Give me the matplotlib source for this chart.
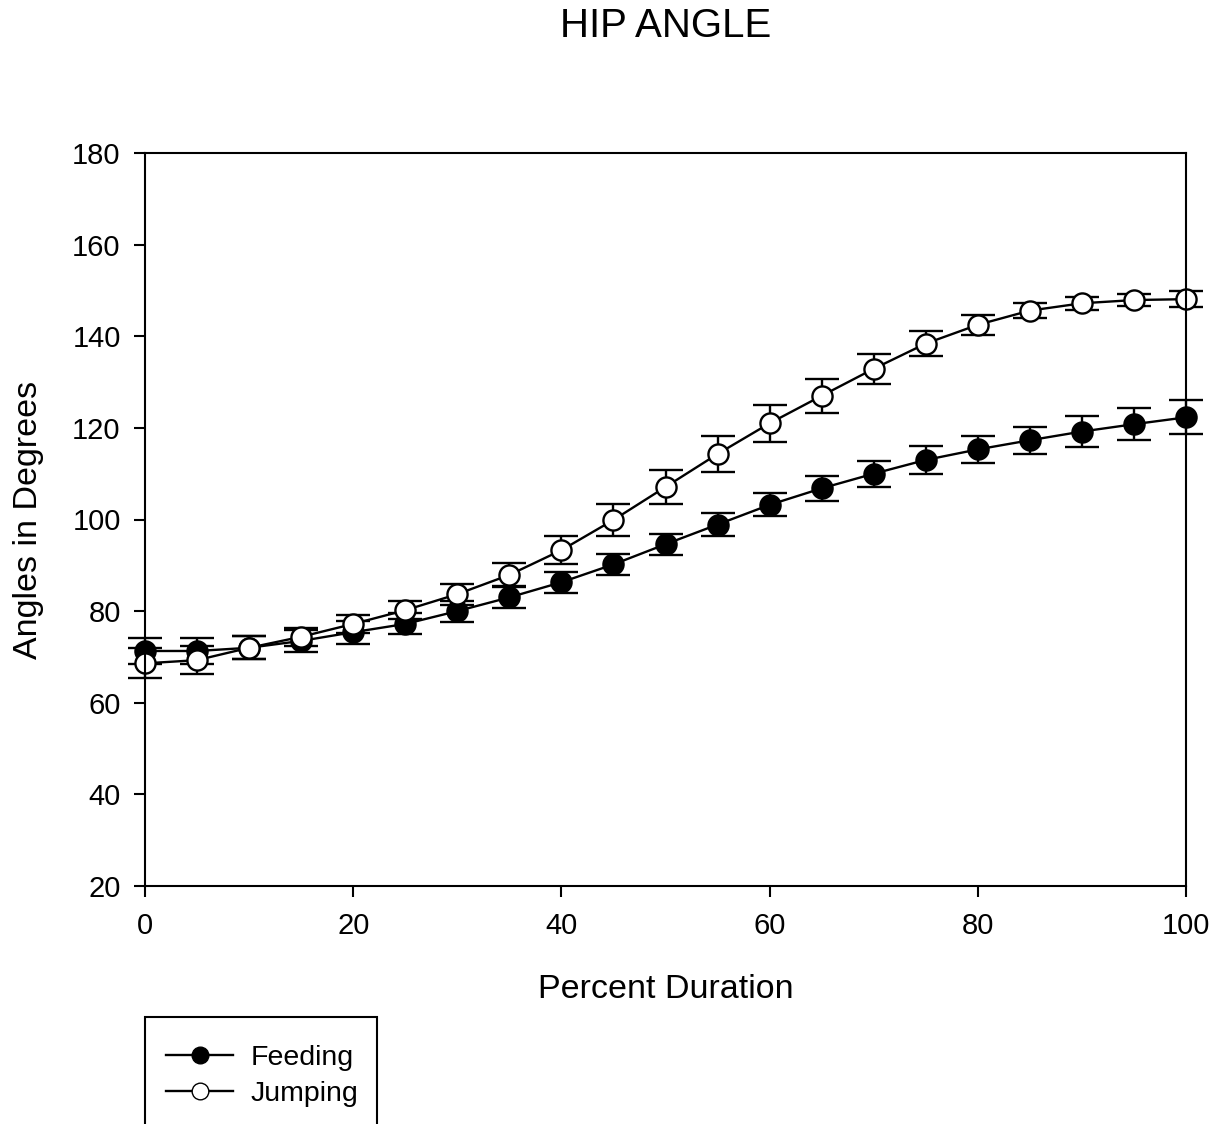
import matplotlib
matplotlib.use("Agg")
import matplotlib.pyplot as plt
from matplotlib.patches import Rectangle
from matplotlib.lines import Line2D

plt.rcParams['font.family'] = ['Liberation Sans', 'DejaVu Sans']

x = [0, 5, 10, 15, 20, 25, 30, 35, 40, 45, 50, 55, 60, 65, 70, 75, 80, 85, 90, 95, 100]
feeding = [71.3, 71.3, 72.0, 73.5, 75.4, 77.2, 80.0, 83.0, 86.3, 90.2, 94.6, 98.9, 103.2,
           106.8, 110.0, 113.0, 115.3, 117.3, 119.2, 120.8, 122.3]
feeding_err = [2.8, 2.8, 2.5, 2.4, 2.5, 2.3, 2.3, 2.3, 2.3, 2.3, 2.3, 2.5, 2.5,
               2.7, 2.8, 3.0, 3.0, 3.0, 3.3, 3.5, 3.7]
jumping = [68.6, 69.3, 72.0, 74.4, 77.2, 80.2, 83.7, 87.9, 93.3, 99.9, 107.1, 114.3, 121.0,
           127.0, 132.9, 138.4, 142.5, 145.6, 147.2, 147.9, 148.1]
jumping_err = [3.3, 3.0, 2.5, 2.0, 2.0, 2.0, 2.3, 2.5, 3.0, 3.5, 3.8, 4.0, 4.0,
               3.7, 3.3, 2.7, 2.2, 1.6, 1.4, 1.3, 1.7]

fig = plt.figure(figsize=(12.18, 11.24), dpi=100)
ax = fig.add_axes([145/1218, 1-886/1124, (1186-145)/1218, (886-153)/1124])

common = dict(color='black', lw=1.7, ms=14.5, capsize=12, capthick=1.7, elinewidth=1.7,
              markeredgecolor='black', markeredgewidth=1.7)
for ys, es, fc, z in [(feeding, feeding_err, 'black', 3), (jumping, jumping_err, 'white', 4)]:
    cont = ax.errorbar(x, ys, yerr=es, fmt='-o', markerfacecolor=fc, zorder=z, **common)
    cont[0].set_clip_on(False)
    for a in cont[1]:
        a.set_clip_on(False)
    for a in cont[2]:
        a.set_clip_on(False)

ax.set_xlim(0, 100)
ax.set_ylim(20, 180)
ax.set_xticks([0, 20, 40, 60, 80, 100])
ax.set_yticks([20, 40, 60, 80, 100, 120, 140, 160, 180])
ax.tick_params(direction='out', length=8, width=1.5, labelsize=21)
ax.tick_params(axis='x', pad=11)
ax.tick_params(axis='y', pad=9.5)
for s in ax.spines.values():
    s.set_linewidth(1.5)
    s.set_zorder(5)
ax.set_xlabel('Percent Duration', fontsize=24.5, labelpad=24)
ax.set_ylabel('Angles in Degrees', fontsize=24.5, labelpad=20)
fig.text(666/1218, 1-26/1124, 'HIP ANGLE', fontsize=29, ha='center', va='center')

# legend box (extends beyond the figure bottom)
rect = Rectangle((145/1218, 1-1140/1124), (377-145)/1218, (1140-1017)/1124,
                 transform=fig.transFigure, fill=False, edgecolor='black', lw=1.5)
fig.patches.append(rect)
h1 = Line2D([], [], color='black', lw=1.7, marker='o', ms=12, markerfacecolor='black',
            markeredgecolor='black')
h2 = Line2D([], [], color='black', lw=1.7, marker='o', ms=12, markerfacecolor='white',
            markeredgecolor='black')
fig.legend([h1, h2], ['Feeding', 'Jumping'], loc='upper left',
           bbox_to_anchor=(152/1218, 1-1031/1124), frameon=False, fontsize=20.5,
           handlelength=2.35, handletextpad=0.6, labelspacing=0.33, borderpad=0)

fig.savefig('out.png', dpi=100)
